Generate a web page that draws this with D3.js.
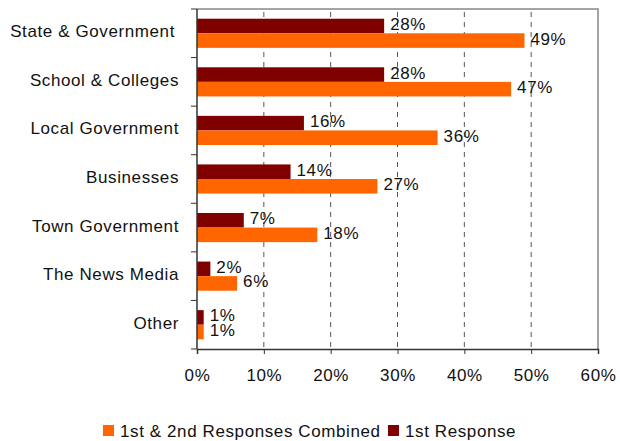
<!DOCTYPE html>
<html>
<head>
<meta charset="utf-8">
<script src="https://cdn.jsdelivr.net/npm/d3@7"></script>
<style>
  body { margin: 0; background: #fff; }
  svg { font-family: "Liberation Sans", Arial, sans-serif; }
  svg text { font-size: 17px; letter-spacing: 0.6px; fill: #111; }
</style>
</head>
<body>
<svg id="chart" width="620" height="441"></svg>
<script>
const categories = [
    "State & Government",
    "School & Colleges",
    "Local Government",
    "Businesses",
    "Town Government",
    "The News Media",
    "Other"
]
const firstResponse = [28, 28, 16, 14, 7, 2, 1]
const combined = [49, 47, 36, 27, 18, 6, 1]
const xTicks = [0, 10, 20, 30, 40, 50, 60]
const seriesNames = ["1st & 2nd Responses Combined", "1st Response"]
const colors = { combined: "#ff6600", first: "#800000" }

const margin = { top: 9, right: 22, bottom: 92, left: 197 }
const w = 620, h = 441
const width = w - margin.left - margin.right
const height = h - margin.top - margin.bottom

const svg = d3.select("#chart")
const chart = svg.append("g")
    .attr("transform", `translate(${margin.left}, ${margin.top})`)

const x = d3.scaleLinear().domain([0, 60]).range([0, width])
const y = d3.scaleBand().domain(categories).range([0, height]).paddingInner(0.4).paddingOuter(0.2)
const inner = d3.scaleBand().domain(["first", "combined"]).range([0, y.bandwidth()])

// plot frame (top/right)
chart.append("path")
    .attr("d", `M0,0H${width}V${height}`)
    .attr("fill", "none")
    .attr("stroke", "#888")
    .attr("stroke-width", 1.5)

// dashed gridlines
chart.selectAll(".grid")
    .data(xTicks.slice(1, -1))
    .enter()
    .append("line")
    .attr("x1", d => x(d))
    .attr("x2", d => x(d))
    .attr("y1", 3)
    .attr("y2", height)
    .attr("stroke", "#555")
    .attr("stroke-dasharray", "5,5")

const rows = categories.map((c, i) => ({ cat: c, first: firstResponse[i], combined: combined[i] }))

const groups = chart.selectAll(".row")
    .data(rows)
    .enter()
    .append("g")
    .attr("transform", d => `translate(0, ${y(d.cat)})`)

;["first", "combined"].forEach(key => {
    groups.append("rect")
        .attr("x", 0)
        .attr("y", inner(key))
        .attr("width", d => x(d[key]))
        .attr("height", inner.bandwidth())
        .attr("fill", colors[key])
    groups.append("text")
        .attr("x", d => x(d[key]) + 6)
        .attr("y", inner(key) + inner.bandwidth() / 2 - 2)
        .attr("dy", "0.35em")
        .text(d => d[key] + "%")
})

// axes
const yTickPos = d3.range(categories.length + 1).map(i => i * height / categories.length)
chart.append("line")
    .attr("x1", 0).attr("x2", 0).attr("y1", 0).attr("y2", height)
    .attr("stroke", "#333").attr("stroke-width", 1.5)
chart.selectAll(".ytick")
    .data(yTickPos)
    .enter()
    .append("line")
    .attr("x1", -6).attr("x2", 0)
    .attr("y1", d => d).attr("y2", d => d)
    .attr("stroke", "#333")

chart.selectAll(".ylabel")
    .data(categories)
    .enter()
    .append("text")
    .attr("x", d => d === "State & Government" ? -22 : -18)
    .attr("y", d => y(d) + y.bandwidth() / 2 - 2)
    .attr("dy", "0.35em")
    .attr("text-anchor", "end")
    .text(d => d)

const xAxis = chart.append("g")
    .attr("transform", `translate(0, ${height})`)
    .call(d3.axisBottom(x).tickValues(xTicks).tickFormat(d => d + "%").tickSize(5).tickPadding(15))
xAxis.select(".domain").attr("stroke", "#333").attr("stroke-width", 1.5)
xAxis.selectAll(".tick line").attr("stroke", "#333")
xAxis.selectAll("text")
    .attr("font-size", null)
    .attr("font-family", null)
    .attr("fill", null)

// legend
const legend = svg.append("g").attr("transform", "translate(0, 431)")
const legendItems = [
    { name: seriesNames[0], color: colors.combined, x: 103 },
    { name: seriesNames[1], color: colors.first, x: 388 }
]
legend.selectAll("rect")
    .data(legendItems)
    .enter()
    .append("rect")
    .attr("x", d => d.x)
    .attr("y", -6)
    .attr("width", 11)
    .attr("height", 11)
    .attr("fill", d => d.color)
legend.selectAll("text")
    .data(legendItems)
    .enter()
    .append("text")
    .attr("x", d => d.x + 17)
    .attr("y", 0)
    .attr("dy", "0.35em")
    .text(d => d.name)
</script>
</body>
</html>
